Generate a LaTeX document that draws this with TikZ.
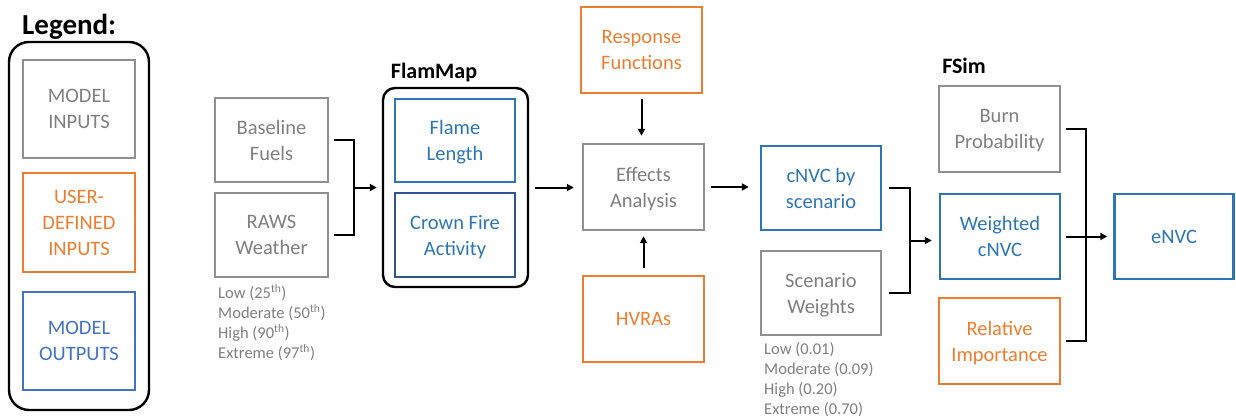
\documentclass[tikz,border=0pt]{standalone}
\usepackage{fontspec}
\setmainfont{Carlito}
\usetikzlibrary{arrows.meta,calc}
\definecolor{ingray}{HTML}{8F8F8F}
\definecolor{intext}{HTML}{7F7F7F}
\definecolor{userorange}{HTML}{ED7D31}
\definecolor{outblue}{HTML}{2E75B6}
\definecolor{deepblue}{HTML}{2F5597}
\definecolor{legblue}{HTML}{4472C4}
\newcommand\boxfnt{\fontsize{20.5}{26}\selectfont}
\newcommand\notefnt{\fontsize{16.5}{20}\selectfont}
\newcommand\headfnt{\fontsize{22}{26}\selectfont\bfseries}
\tikzset{
  anybox/.style={draw, line width=2.4pt, align=center, inner sep=0pt, font=\boxfnt, text depth=0pt},
  inbox/.style={anybox, draw=ingray, text=intext},
  userbox/.style={anybox, draw=userorange, text=userorange},
  outbox/.style={anybox, draw=outblue, text=outblue},
  frame/.style={draw=black, line width=2.4pt, rounded corners=#1},
  conn/.style={draw=black, line width=2pt},
  flow/.style={conn, -{Triangle[length=7pt,width=7pt]}},
  note/.style={anchor=north west, align=left, inner sep=0pt, font=\notefnt, text=intext},
  head/.style={font=\headfnt, inner sep=0pt}
}
\begin{document}
\begin{tikzpicture}[x=1pt,y=-1pt]
\useasboundingbox (0,0) rectangle (1236,420);

% legend
\node[head, anchor=west, font=\fontsize{29}{34}\selectfont\bfseries] (legtitle) at (22,27) {Legend:};
\draw[frame=20pt] (9,42) rectangle (149,410);
\node[inbox, minimum width=112pt, minimum height=98pt] (legin) at (79,109) {MODEL\\INPUTS};
\node[userbox, minimum width=112pt, minimum height=99pt] (leguser) at (79,222.5) {USER-\\DEFINED\\INPUTS};
\node[anybox, draw=legblue, text=legblue, minimum width=112pt, minimum height=98pt] (legout) at (79,341) {MODEL\\OUTPUTS};

% inputs
\node[inbox, minimum width=113pt, minimum height=84pt] (base) at (271.5,140) {Baseline\\Fuels};
\node[inbox, minimum width=113pt, minimum height=84pt] (raws) at (271.5,235) {RAWS\\Weather};
\node[note] (rawsnote) at (218,284) {Low (25\textsuperscript{th})\\Moderate (50\textsuperscript{th})\\High (90\textsuperscript{th})\\Extreme (97\textsuperscript{th})};

% FlamMap group
\node[head] (flamtitle) at (434,73) {FlamMap};
\node[frame=12pt, minimum width=145pt, minimum height=199pt, inner sep=0pt] (flam) at (455.5,187.5) {};
\node[outbox, minimum width=120pt, minimum height=83pt] (flame) at (455,140.5) {Flame\\Length};
\node[outbox, draw=deepblue, minimum width=120pt, minimum height=84pt] (crown) at (455,235) {Crown Fire\\Activity};

% effects analysis
\node[userbox, minimum width=121pt, minimum height=86pt] (resp) at (641.5,50) {Response\\Functions};
\node[inbox, minimum width=121pt, minimum height=86pt] (eff) at (643.5,187) {Effects\\Analysis};
\node[userbox, minimum width=121pt, minimum height=86pt] (hvra) at (643.5,319) {HVRAs};

% scenarios
\node[outbox, minimum width=120pt, minimum height=84pt] (cnvc) at (821,188) {cNVC by\\scenario};
\node[inbox, minimum width=120pt, minimum height=84pt] (sw) at (821,293) {Scenario\\Weights};
\node[note] (swnote) at (764,342) {Low (0.01)\\Moderate (0.09)\\High (0.20)\\Extreme (0.70)};

% FSim group
\node[head] (fsimtitle) at (964,66) {FSim};
\node[inbox, minimum width=121pt, minimum height=86pt] (burn) at (999.5,129) {Burn\\Probability};
\node[outbox, minimum width=120pt, minimum height=85pt] (wcnvc) at (1000,236.5) {Weighted\\cNVC};
\node[userbox, minimum width=121pt, minimum height=86pt] (rel) at (999.5,341) {Relative\\Importance};
\node[outbox, minimum width=119pt, minimum height=85pt] (envc) at (1174,236.5) {eNVC};

% connectors
\coordinate (ja) at ([xshift=25pt]$(base.east)!0.5!(raws.east)$);
\draw[conn] ([xshift=5pt]base.east) -| (ja) |- ([xshift=5pt]raws.east);
\draw[flow] (ja) -- ([xshift=-5pt]ja -| flam.west);

\draw[flow] ([xshift=6pt]flam.east) -- ([xshift=-8pt]eff.west |- flam.east);
\draw[flow] ([yshift=-5pt]resp.south) -- ([yshift=7pt]eff.north -| resp.south);
\draw[flow] ([yshift=7pt]hvra.north) -- ([yshift=-5pt]eff.south);
\draw[flow] ([xshift=6pt]eff.east) -- ([xshift=-11pt]cnvc.west |- eff.east);

\coordinate (jb) at ([xshift=28pt]$(cnvc.east)!0.5!(sw.east)$);
\draw[conn] ([xshift=7pt]cnvc.east) -| (jb) |- ([xshift=7pt]sw.east);
\draw[flow] (jb) -- ([xshift=-7pt]jb -| wcnvc.west);

\coordinate (jc) at ([xshift=25pt]wcnvc.east);
\draw[conn] ([xshift=5pt]burn.east) -| (jc) |- ([xshift=5pt]rel.east);
\draw[flow] ([xshift=5pt]wcnvc.east) -- ([xshift=-6pt]envc.west);
\end{tikzpicture}
\end{document}
